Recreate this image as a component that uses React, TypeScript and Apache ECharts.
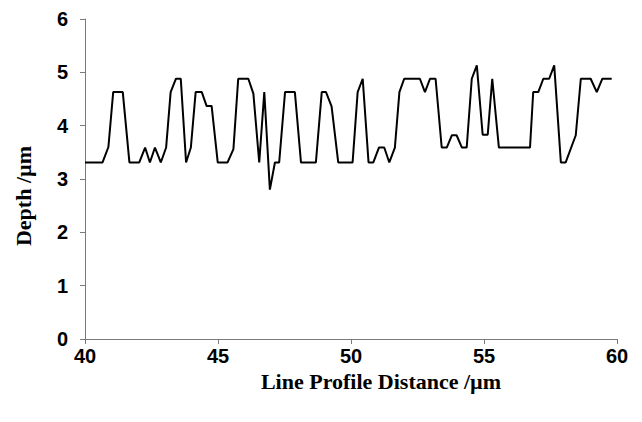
import React, { useEffect, useRef } from "react";
import * as echarts from "echarts";

const distance: number[] = [
  40.0, 40.66, 40.88, 41.06, 41.42, 41.67, 42.04, 42.26, 42.44, 42.63,
  42.85, 43.05, 43.22, 43.42, 43.6, 43.8, 43.98, 44.16, 44.39, 44.57,
  44.76, 44.99, 45.36, 45.58, 45.76, 46.14, 46.33, 46.55, 46.74, 46.95,
  47.14, 47.3, 47.52, 47.89, 48.12, 48.68, 48.9, 49.06, 49.27, 49.52,
  50.06, 50.25, 50.44, 50.66, 50.84, 51.05, 51.25, 51.44, 51.65, 51.82,
  52.0, 52.59, 52.78, 52.97, 53.18, 53.41, 53.6, 53.79, 53.97, 54.17,
  54.35, 54.54, 54.73, 54.95, 55.14, 55.31, 55.56, 56.73, 56.85, 57.04,
  57.23, 57.45, 57.64, 57.89, 58.07, 58.45, 58.64, 59.01, 59.24, 59.45,
  59.8,
];

const depth: number[] = [
  3.31, 3.31, 3.6, 4.63, 4.63, 3.31, 3.31, 3.59, 3.31, 3.59,
  3.31, 3.59, 4.63, 4.88, 4.88, 3.31, 3.59, 4.63, 4.63, 4.37,
  4.37, 3.31, 3.31, 3.56, 4.88, 4.88, 4.6, 3.31, 4.63, 2.8,
  3.31, 3.31, 4.63, 4.63, 3.31, 3.31, 4.63, 4.63, 4.36, 3.31,
  3.31, 4.63, 4.88, 3.31, 3.31, 3.59, 3.59, 3.31, 3.59, 4.63,
  4.88, 4.88, 4.63, 4.88, 4.88, 3.59, 3.59, 3.82, 3.82, 3.59,
  3.59, 4.88, 5.13, 3.83, 3.83, 4.88, 3.59, 3.59, 4.63, 4.63,
  4.88, 4.88, 5.13, 3.31, 3.31, 3.82, 4.88, 4.88, 4.63, 4.88,
  4.88,
];

const xTitle = "Line Profile Distance /\u00b5m";
const yTitle = "Depth /\u00b5m";

export default function App() {
  const ref = useRef<HTMLDivElement>(null);
  useEffect(() => {
    if (!ref.current) return;
    const chart = echarts.init(ref.current, null, { renderer: "svg" });
    const axisColor = "#7a7a7a";
    const tickFont = {
      fontFamily: "Liberation Sans, Arial, sans-serif",
      fontWeight: "bold" as const,
      fontSize: 20,
      color: "#000",
    };
    const titleFont = {
      fontFamily: "Liberation Serif, Times New Roman, serif",
      fontWeight: "bold" as const,
      fontSize: 22,
      color: "#000",
    };
    chart.setOption({
      animation: false,
      backgroundColor: "#fff",
      grid: { left: 85, right: 25, top: 19, bottom: 83, containLabel: false },
      xAxis: {
        type: "value",
        min: 40,
        max: 60,
        interval: 5,
        name: xTitle,
        nameLocation: "middle",
        nameGap: 31,
        nameTextStyle: { ...titleFont, padding: [0, 0, 0, 60] },
        axisLine: { show: true, lineStyle: { color: axisColor, width: 1 } },
        axisTick: { show: true, length: 5, lineStyle: { color: axisColor } },
        axisLabel: { ...tickFont, margin: 7 },
        splitLine: { show: false },
      },
      yAxis: {
        type: "value",
        min: 0,
        max: 6,
        interval: 1,
        name: yTitle,
        nameLocation: "middle",
        nameGap: 51,
        nameRotate: 90,
        nameTextStyle: { ...titleFont, padding: [0, 34, 0, 0] },
        axisLine: { show: true, lineStyle: { color: axisColor, width: 1 } },
        axisTick: { show: true, length: 5, lineStyle: { color: axisColor } },
        axisLabel: { ...tickFont, margin: 17 },
        splitLine: { show: false },
      },
      series: [
        {
          type: "line",
          data: distance.map((d, i) => [d, depth[i]]),
          showSymbol: false,
          symbol: "none",
          lineStyle: { color: "#000", width: 2 },
        },
      ],
    });
    return () => chart.dispose();
  }, []);
  return <div ref={ref} style={{ width: 642, height: 422, position: "absolute", left: 0, top: 0 }} />;
}
